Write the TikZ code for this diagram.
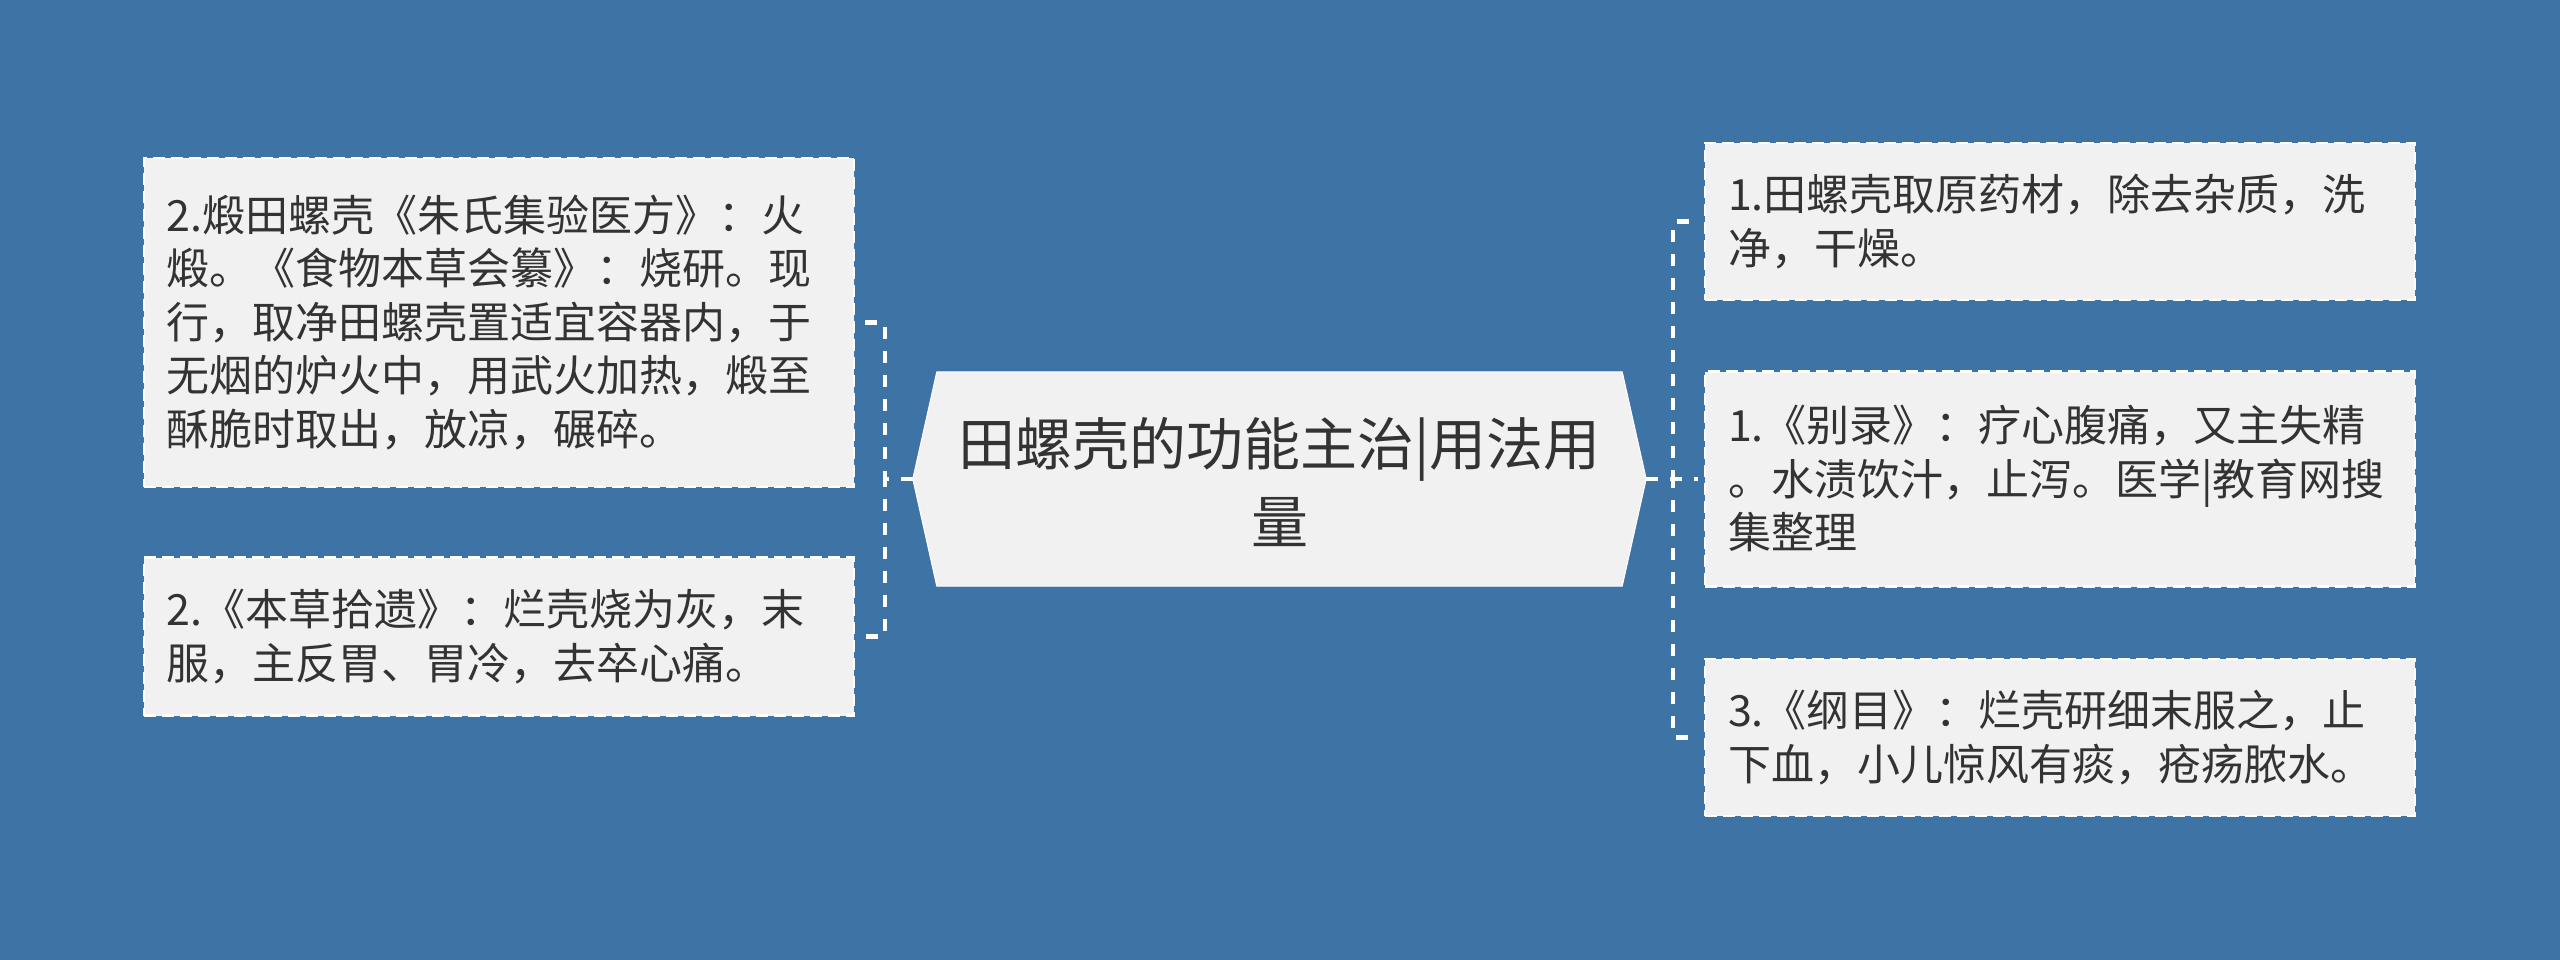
\documentclass[tikz,border=0pt]{standalone}
\usepackage{fontspec}
\setmainfont{Noto Sans CJK SC}
\definecolor{bgblue}{RGB}{62,115,166}
\definecolor{boxfill}{RGB}{241,241,241}
\definecolor{txt}{RGB}{51,51,51}
\begin{document}
\begin{tikzpicture}[x=1pt,y=-1pt,
  leaf/.style={fill=boxfill, draw=white, line width=2.5pt, dash pattern=on 12pt off 6pt,
    text=txt, font=\fontsize{43}{53.5}\selectfont, align=left, text width=664pt,
    inner xsep=23pt, inner ysep=0pt, minimum width=710pt, anchor=center},
  conn/.style={draw=white, line width=4.5pt, dash pattern=on 12pt off 12pt},
  hexfill/.style={fill=boxfill, draw=white, line width=1pt}]
\fill[bgblue] (0,0) rectangle (2560,960);
\useasboundingbox (0,0) rectangle (2560,960);

% central node frame
\node[minimum width=733pt, minimum height=214pt, inner sep=0pt] (c) at (1279.5,479) {};
\path[hexfill] (c.west) -- ([xshift=24pt]c.north west) -- ([xshift=-24pt]c.north east)
  -- (c.east) -- ([xshift=-24pt]c.south east) -- ([xshift=24pt]c.south west) -- cycle;
\node[text=txt, font=\fontsize{57}{78}\selectfont, align=center] (ct) at (1279.5,482)
  {田螺壳的功能主治|用法用\\量};

% left leaves
\node[leaf, minimum height=329pt] (l1) at (498.8,322.5)
  {2.煅田螺壳《朱氏集验医方》：火\\煅。《食物本草会纂》：烧研。现\\行，取净田螺壳置适宜容器内，于\\无烟的炉火中，用武火加热，煅至\\酥脆时取出，放凉，碾碎。};
\node[leaf, minimum height=158pt] (l2) at (498.8,636.5)
  {2.《本草拾遗》：烂壳烧为灰，末\\服，主反胃、胃冷，去卒心痛。};

% right leaves
\node[leaf, minimum height=157pt] (r1) at (2060,221.5)
  {1.田螺壳取原药材，除去杂质，洗\\净，干燥。};
\node[leaf, minimum height=215pt] (r2) at (2060,479)
  {1.《别录》：疗心腹痛，又主失精\\。水渍饮汁，止泻。医学|教育网搜\\集整理};
\node[leaf, minimum height=157pt] (r3) at (2060,737.5)
  {3.《纲目》：烂壳研细末服之，止\\下血，小儿惊风有痰，疮疡脓水。};

% connectors
\draw[conn] (c.west) -- ++(-28pt,0) |- ([xshift=10pt]l1.east);
\draw[conn] (c.west) -- ++(-28pt,0) |- ([xshift=10pt]l2.east);
\draw[conn] (c.east) -- ++(27pt,0) |- ([xshift=-14pt]r1.west);
\draw[conn] (c.east) -- ([xshift=-6pt]r2.west);
\draw[conn] (c.east) -- ++(27pt,0) |- ([xshift=-14pt]r3.west);
\end{tikzpicture}
\end{document}
